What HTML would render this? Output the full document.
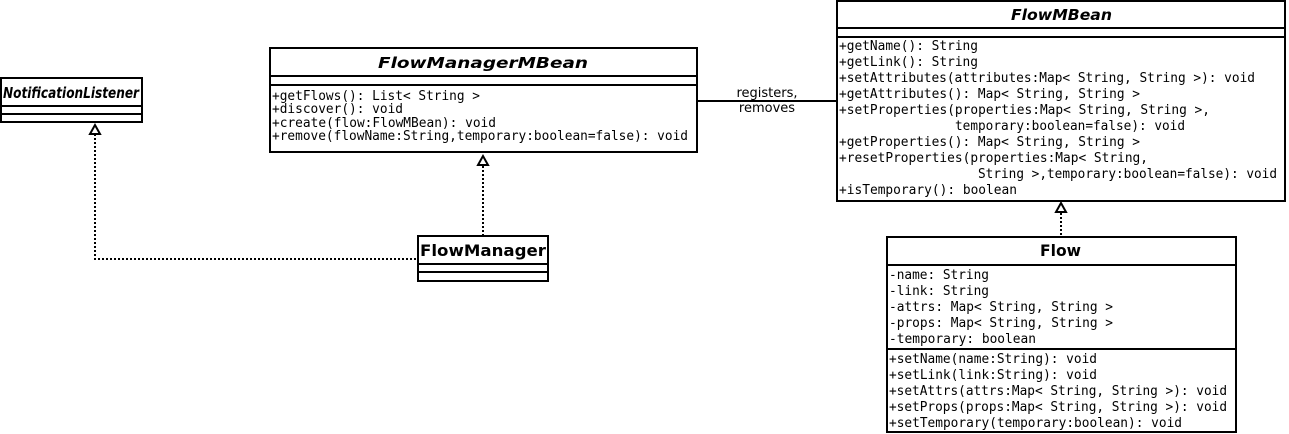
<!DOCTYPE html>
<html><head><meta charset="utf-8"><style>
html,body{margin:0;padding:0;background:#fff;}
svg{display:block;}
.t{font-family:"DejaVu Sans","Liberation Sans",sans-serif;font-weight:bold;font-style:italic;font-size:15px;}
.tb{font-family:"DejaVu Sans","Liberation Sans",sans-serif;font-weight:bold;font-size:16px;}
.m{font-family:"DejaVu Sans Mono","Liberation Mono",monospace;font-size:13px;}
.l{font-family:"DejaVu Sans","Liberation Sans",sans-serif;font-size:13px;}
</style></head><body>
<svg width="1289" height="434" viewBox="0 0 1289 434" xmlns="http://www.w3.org/2000/svg">
<g fill="none" stroke="#000" stroke-width="2">
<rect x="1" y="78" width="141" height="44"/>
<line x1="1" y1="106" x2="142" y2="106"/>
<line x1="1" y1="114" x2="142" y2="114"/>
<rect x="270" y="48" width="427" height="104"/>
<line x1="270" y1="76" x2="697" y2="76"/>
<line x1="270" y1="85" x2="697" y2="85"/>
<rect x="418" y="236" width="130" height="45"/>
<line x1="418" y1="264" x2="548" y2="264"/>
<line x1="418" y1="272" x2="548" y2="272"/>
<rect x="837" y="1" width="448" height="200"/>
<line x1="837" y1="28" x2="1285" y2="28"/>
<line x1="837" y1="37" x2="1285" y2="37"/>
<rect x="887" y="237" width="349" height="195"/>
<line x1="887" y1="265" x2="1236" y2="265"/>
<line x1="887" y1="349" x2="1236" y2="349"/>
</g>
<g fill="none" stroke="#000" stroke-width="2" stroke-dasharray="2,2">
<polyline points="95,134 95,259 418,259"/>
<line x1="483" y1="166" x2="483" y2="236"/>
<line x1="1061" y1="213" x2="1061" y2="237"/>
</g>
<g fill="#fff" stroke="#000" stroke-width="2">
<polygon points="95,125 90,134 100,134"/>
<polygon points="483,156 478,165 488,165"/>
<polygon points="1061,203 1056,212 1066,212"/>
</g>
<line x1="697" y1="101" x2="837" y2="101" stroke="#000" stroke-width="2"/>
<text class="l" x="767" y="97" text-anchor="middle">registers,</text>
<text class="l" x="767" y="112" text-anchor="middle">removes</text>

<text class="t" x="3" y="98" textLength="136" lengthAdjust="spacingAndGlyphs">NotificationListener</text>
<text class="t" x="378" y="68" textLength="210" lengthAdjust="spacingAndGlyphs">FlowManagerMBean</text>
<text class="tb" x="420" y="256" textLength="126" lengthAdjust="spacingAndGlyphs">FlowManager</text>
<text class="t" x="1011" y="20" textLength="101" lengthAdjust="spacingAndGlyphs">FlowMBean</text>
<text class="tb" x="1040" y="256" textLength="41" lengthAdjust="spacingAndGlyphs">Flow</text>

<g class="m" lengthAdjust="spacingAndGlyphs">
<text x="272" y="100" textLength="208" lengthAdjust="spacingAndGlyphs">+getFlows(): List&lt; String &gt;</text>
<text x="272" y="113" textLength="131" lengthAdjust="spacingAndGlyphs">+discover(): void</text>
<text x="272" y="127" textLength="224" lengthAdjust="spacingAndGlyphs">+create(flow:FlowMBean): void</text>
<text x="272" y="140" textLength="416" lengthAdjust="spacingAndGlyphs">+remove(flowName:String,temporary:boolean=false): void</text>

<text x="839" y="50" textLength="139" lengthAdjust="spacingAndGlyphs">+getName(): String</text>
<text x="839" y="66" textLength="139" lengthAdjust="spacingAndGlyphs">+getLink(): String</text>
<text x="839" y="82" textLength="416" lengthAdjust="spacingAndGlyphs">+setAttributes(attributes:Map&lt; String, String &gt;): void</text>
<text x="839" y="98" textLength="301" lengthAdjust="spacingAndGlyphs">+getAttributes(): Map&lt; String, String &gt;</text>
<text x="839" y="114" textLength="371" lengthAdjust="spacingAndGlyphs">+setProperties(properties:Map&lt; String, String &gt;,</text>
<text x="955" y="130" textLength="230" lengthAdjust="spacingAndGlyphs">temporary:boolean=false): void</text>
<text x="839" y="146" textLength="301" lengthAdjust="spacingAndGlyphs">+getProperties(): Map&lt; String, String &gt;</text>
<text x="839" y="162" textLength="309" lengthAdjust="spacingAndGlyphs">+resetProperties(properties:Map&lt; String,</text>
<text x="978" y="178" textLength="299" lengthAdjust="spacingAndGlyphs">String &gt;,temporary:boolean=false): void</text>
<text x="839" y="194" textLength="178" lengthAdjust="spacingAndGlyphs">+isTemporary(): boolean</text>

<text x="889" y="279" textLength="100" lengthAdjust="spacingAndGlyphs">-name: String</text>
<text x="889" y="295" textLength="100" lengthAdjust="spacingAndGlyphs">-link: String</text>
<text x="889" y="311" textLength="224" lengthAdjust="spacingAndGlyphs">-attrs: Map&lt; String, String &gt;</text>
<text x="889" y="327" textLength="224" lengthAdjust="spacingAndGlyphs">-props: Map&lt; String, String &gt;</text>
<text x="889" y="343" textLength="147" lengthAdjust="spacingAndGlyphs">-temporary: boolean</text>
<text x="889" y="363" textLength="208" lengthAdjust="spacingAndGlyphs">+setName(name:String): void</text>
<text x="889" y="379" textLength="208" lengthAdjust="spacingAndGlyphs">+setLink(link:String): void</text>
<text x="889" y="395" textLength="338" lengthAdjust="spacingAndGlyphs">+setAttrs(attrs:Map&lt; String, String &gt;): void</text>
<text x="889" y="411" textLength="338" lengthAdjust="spacingAndGlyphs">+setProps(props:Map&lt; String, String &gt;): void</text>
<text x="889" y="427" textLength="293" lengthAdjust="spacingAndGlyphs">+setTemporary(temporary:boolean): void</text>
</g>
</svg>
</body></html>
